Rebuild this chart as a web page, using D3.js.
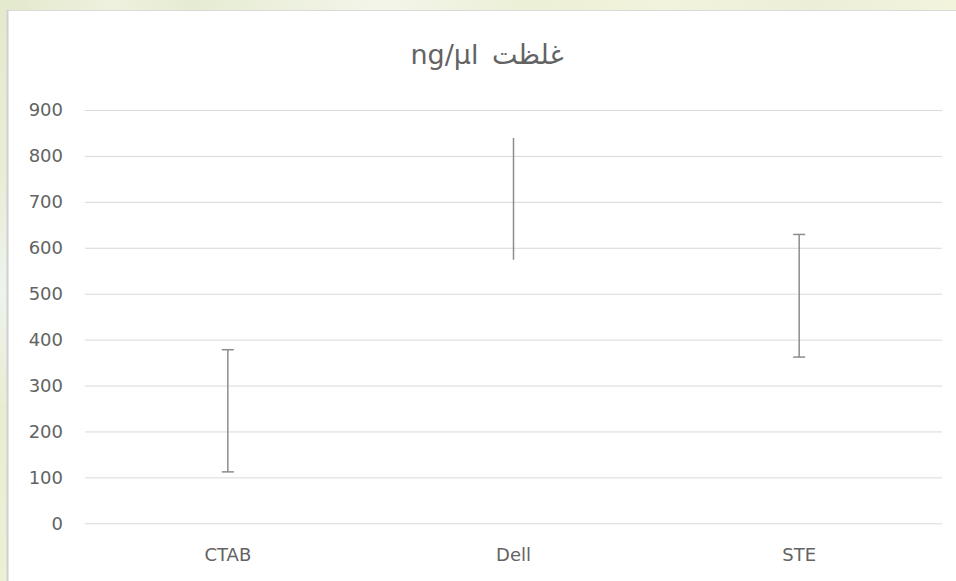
<!DOCTYPE html>
<html>
<head>
<meta charset="utf-8">
<script src="https://cdn.jsdelivr.net/npm/d3@7"></script>
<style>
  html, body { margin: 0; padding: 0; background: #fff; }
  svg { display: block; }
</style>
</head>
<body>
<svg id="chart" width="956" height="581"></svg>
<script>
// Concentration range (ng/µl) for each extraction method
const methods = ["CTAB", "Dell", "STE"];
const lowValues = [112, 574, 362];
const highValues = [378, 839, 629];
const capped = [true, false, true];
const yTicks = [0, 100, 200, 300, 400, 500, 600, 700, 800, 900];
const titleText = "غلظت\u2002ng/µl";

const W = 956, H = 581;
const svg = d3.select("#chart");
const FONT = "'DejaVu Sans', 'Noto Sans', sans-serif";
const TEXT_COLOR = "#636363";

// Soft textured backdrop behind the chart card
const defs = svg.append("defs");
const bg = defs.append("linearGradient").attr("id", "bgGrad").attr("x1", 0).attr("x2", 1).attr("y1", 0).attr("y2", 0);
[["0%", "#e3e9cc"], ["12%", "#eef1de"], ["20%", "#e6ecd2"], ["40%", "#f3f5ea"], ["55%", "#ecf0d6"],
 ["70%", "#f2f3dc"], ["85%", "#eceed8"], ["100%", "#f3f4dc"]].forEach(([o, c]) =>
  bg.append("stop").attr("offset", o).attr("stop-color", c));
const bgV = defs.append("linearGradient").attr("id", "bgGradV").attr("x1", 0).attr("x2", 0).attr("y1", 0).attr("y2", 1);
[["0%", "#e4eacd"], ["30%", "#e9edd6"], ["50%", "#eef3ee"], ["70%", "#e8edd2"], ["100%", "#eef0d6"]].forEach(([o, c]) =>
  bgV.append("stop").attr("offset", o).attr("stop-color", c));

svg.append("rect").attr("x", 0).attr("y", 0).attr("width", W).attr("height", 10).attr("fill", "url(#bgGrad)");
svg.append("rect").attr("x", 0).attr("y", 0).attr("width", 7).attr("height", H).attr("fill", "url(#bgGradV)");

// Chart card
svg.append("rect").attr("x", 7).attr("y", 10).attr("width", W - 7).attr("height", H - 10)
  .attr("fill", "#ffffff");
svg.append("line").attr("x1", 7).attr("x2", W).attr("y1", 10.5).attr("y2", 10.5)
  .attr("stroke", "#d9d9d9").attr("stroke-width", 1);
svg.append("line").attr("x1", 7.5).attr("x2", 7.5).attr("y1", 10).attr("y2", H)
  .attr("stroke", "#d0d0d0").attr("stroke-width", 2);

const margin = { left: 85, right: 14 };
const plotW = W - margin.left - margin.right;
const plotBottom = 523.3;
const plotTop = 110;

const x = d3.scaleBand().domain(methods).range([margin.left, margin.left + plotW]).paddingInner(0).paddingOuter(0);
const y = d3.scaleLinear().domain([0, 900]).range([plotBottom, plotTop]);

// Horizontal gridlines with value labels
const yAxis = d3.axisLeft(y).tickValues(yTicks).tickSize(-plotW).tickPadding(22).tickFormat(d3.format("d"));
const gy = svg.append("g").attr("transform", `translate(${margin.left},0)`).call(yAxis);
gy.select(".domain").remove();
gy.selectAll(".tick line").attr("stroke", "#d9d9d9").attr("stroke-width", 1);
gy.selectAll(".tick text").attr("fill", TEXT_COLOR).attr("font-family", FONT).attr("font-size", 18);

// Category axis
const xAxis = d3.axisBottom(x).tickSize(0).tickPadding(25);
const gx = svg.append("g").attr("transform", `translate(0,${plotBottom})`).call(xAxis);
gx.select(".domain").remove();
gx.selectAll(".tick text").attr("fill", TEXT_COLOR).attr("font-family", FONT).attr("font-size", 18);

// High-low range bars
const rows = methods.map((m, i) => ({ m, lo: lowValues[i], hi: highValues[i], cap: capped[i] }));
const g = svg.append("g");
const cx = d => x(d.m) + x.bandwidth() / 2;
g.selectAll("line.range").data(rows).join("line").attr("class", "range")
  .attr("x1", cx).attr("x2", cx)
  .attr("y1", d => y(d.hi)).attr("y2", d => y(d.lo))
  .attr("stroke", "#8c8c8c").attr("stroke-width", 1.5);
const capW = 6;
["hi", "lo"].forEach(k => {
  g.selectAll("line.cap-" + k).data(rows.filter(d => d.cap)).join("line").attr("class", "cap-" + k)
    .attr("x1", d => cx(d) - capW).attr("x2", d => cx(d) + capW)
    .attr("y1", d => y(d[k])).attr("y2", d => y(d[k]))
    .attr("stroke", "#8c8c8c").attr("stroke-width", 1.5);
});

// Title
svg.append("text").attr("x", 487).attr("y", 64).attr("text-anchor", "middle")
  .attr("fill", TEXT_COLOR).attr("font-family", FONT).attr("font-size", 27)
  .attr("direction", "rtl").attr("unicode-bidi", "plaintext")
  .text(titleText);
</script>
</body>
</html>
